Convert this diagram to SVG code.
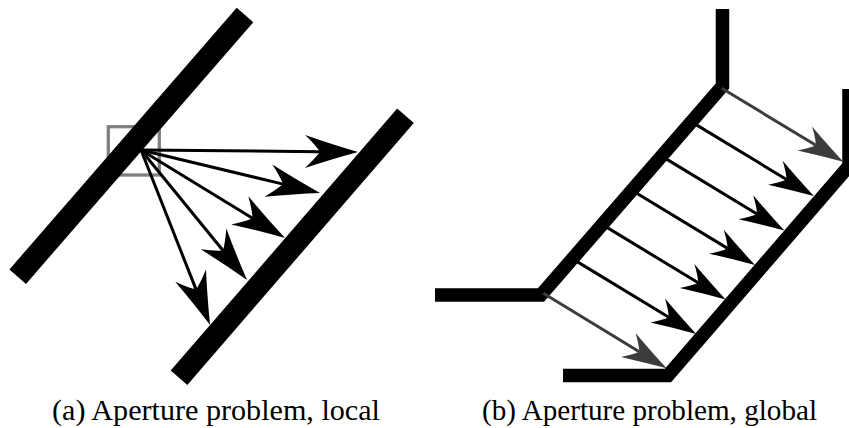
<svg xmlns="http://www.w3.org/2000/svg" width="849" height="428" viewBox="0 0 849 428">
  <style>
    .bar { stroke: #000; fill: none; stroke-linecap: butt; }
    .wall { stroke: #000; fill: none; stroke-width: 13.5; stroke-linejoin: miter; stroke-linecap: butt; }
    .arr { stroke: #000; stroke-width: 3; fill: none; }
    .arrg { stroke: #3c3c3c; stroke-width: 3; fill: none; }
    .cap { font-family: "Liberation Serif", "DejaVu Serif", serif; font-size: 30px; fill: #000; }
  </style>
  <defs>
    <marker id="headL" markerUnits="userSpaceOnUse" viewBox="-16 -17 55 34" markerWidth="55" markerHeight="34" refX="0" refY="0" orient="auto" overflow="visible">
      <path d="M38,0 Q13,-7 -15,-16.5 Q-5,-7 0,0 Q-5,7 -15,16.5 Q13,7 38,0 Z" fill="#000"/>
    </marker>
    <marker id="headR" markerUnits="userSpaceOnUse" viewBox="-14 -15 47 30" markerWidth="47" markerHeight="30" refX="0" refY="0" orient="auto" overflow="visible">
      <path d="M32,0 Q11,-6 -13,-14 Q-4,-6 0,0 Q-4,6 -13,14 Q11,6 32,0 Z" fill="#000"/>
    </marker>
    <marker id="headRg" markerUnits="userSpaceOnUse" viewBox="-14 -15 47 30" markerWidth="47" markerHeight="30" refX="0" refY="0" orient="auto" overflow="visible">
      <path d="M32,0 Q11,-6 -13,-14 Q-4,-6 0,0 Q-4,6 -13,14 Q11,6 32,0 Z" fill="#3c3c3c"/>
    </marker>
  </defs>

  <!-- (a) local -->
  <g id="aperture-window">
    <rect x="108.3" y="126.7" width="51" height="48.3" fill="none" stroke="#808080" stroke-width="3.3"/>
  </g>
  <g id="edge-upper">
    <line class="bar" x1="245" y1="15" x2="17.7" y2="276.7" stroke-width="22"/>
  </g>
  <g id="edge-lower">
    <line class="bar" x1="405.5" y1="115.8" x2="179" y2="377.8" stroke-width="22"/>
  </g>
  <g id="connectors-local">
    <line class="arr" x1="141" y1="150" x2="320" y2="151.65" marker-end="url(#headL)"/>
    <line class="arr" x1="141" y1="150" x2="283.1" y2="184.1" marker-end="url(#headL)"/>
    <line class="arr" x1="141" y1="150" x2="252.6" y2="218.2" marker-end="url(#headL)"/>
    <line class="arr" x1="141" y1="150" x2="223" y2="250.5" marker-end="url(#headL)"/>
    <line class="arr" x1="141" y1="150" x2="196.1" y2="289.6" marker-end="url(#headL)"/>
  </g>

  <!-- (b) global -->
  <g id="wall-upper">
    <polyline class="wall" points="722.5,9 722.5,86 541,295 435,295"/>
  </g>
  <g id="wall-lower">
    <polyline class="wall" points="849,89 849,166 668,375.5 563,375.5"/>
  </g>
  <g id="connectors-global">
    <line class="arrg" x1="721.7" y1="88.3" x2="815.9" y2="145.2" marker-end="url(#headRg)"/>
    <line class="arr" x1="691.9" y1="122.1" x2="786.5" y2="179.5" marker-end="url(#headR)"/>
    <line class="arr" x1="662.4" y1="156.6" x2="757" y2="214" marker-end="url(#headR)"/>
    <line class="arr" x1="633" y1="191" x2="727.6" y2="248.4" marker-end="url(#headR)"/>
    <line class="arr" x1="603.6" y1="225.4" x2="698.2" y2="282.8" marker-end="url(#headR)"/>
    <line class="arr" x1="574.2" y1="259.9" x2="668.8" y2="317.3" marker-end="url(#headR)"/>
    <line class="arrg" x1="543.3" y1="293.3" x2="639.3" y2="351.7" marker-end="url(#headRg)"/>
  </g>

  <g id="captions">
    <text class="cap" x="52" y="420" textLength="328" lengthAdjust="spacingAndGlyphs">(a) Aperture problem, local</text>
    <text class="cap" x="482" y="420" textLength="335" lengthAdjust="spacingAndGlyphs">(b) Aperture problem, global</text>
  </g>
</svg>
